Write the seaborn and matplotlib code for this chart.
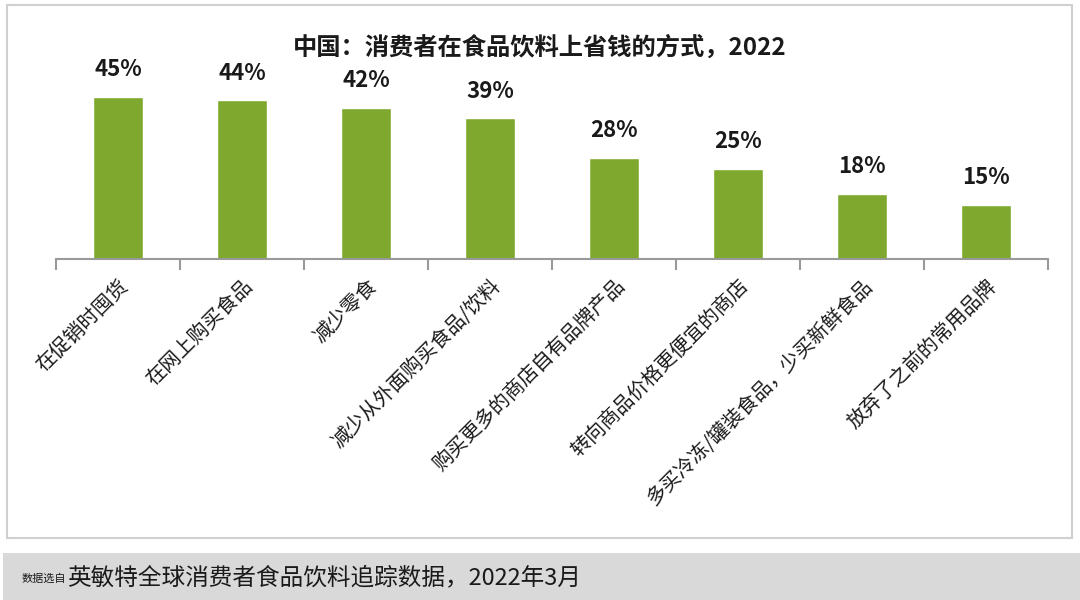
import matplotlib
matplotlib.use("Agg")
import matplotlib.pyplot as plt
import seaborn as sns
import pandas as pd
import numpy as np
from matplotlib.patches import Rectangle

# data
categories = ['在促销时囤货', '在网上购买食品', '减少零食', '减少从外面购买食品/饮料',
              '购买更多的商店自有品牌产品', '转向商品价格更便宜的商店',
              '多买冷冻/罐装食品，少买新鲜食品', '放弃了之前的常用品牌']
values = [45, 44, 42, 39, 28, 25, 18, 15]
title = '中国：消费者在食品饮料上省钱的方式，2022'
source_small = '数据选自'
source_text = '英敏特全球消费者食品饮料追踪数据，2022年3月'

sns.set_theme(style='white')
plt.rcParams['font.family'] = ['Noto Sans CJK SC', 'DejaVu Sans']

df = pd.DataFrame({'cat': categories, 'val': values})

fig = plt.figure(figsize=(10.8, 6), dpi=100)
ax = fig.add_axes([56 / 1080, 1 - 259 / 600, (1048 - 56) / 1080, 214 / 600])

sns.barplot(data=df, x='cat', y='val', color='#7fa82e', width=0.4,
            saturation=1, ax=ax)
ax.set_ylim(0, 59.4)
ax.set_xlim(-0.5, len(categories) - 0.5)

for i, v in enumerate(values):
    ax.text(i, v + 7.6, f'{v}%', ha='center', va='center', fontsize=16,
            fontweight='bold', color='#1a1a1a')

for s in ['top', 'right', 'left']:
    ax.spines[s].set_visible(False)
ax.spines['bottom'].set_color('#999999')
ax.spines['bottom'].set_linewidth(1.5)
ax.set_yticks([])
ax.set_xlabel('')
ax.set_ylabel('')

ax.set_xticks(np.arange(-0.5, len(categories)), minor=True)
ax.tick_params(axis='x', which='minor', length=8, width=1.5, color='#999999',
               direction='out', bottom=True)
ax.tick_params(axis='x', which='major', length=0, pad=12)
ax.set_xticks(range(len(categories)))
ax.set_xticklabels(categories, rotation=45, ha='right', rotation_mode='anchor',
                   fontsize=14.5, color='#1a1a1a')

fig.text(540 / 1080, 1 - 48 / 600, title, ha='center', va='center',
         fontsize=17.5, fontweight='bold', color='#1a1a1a')

# outer frame of the chart panel
fig.patches.append(Rectangle((7 / 1080, 1 - 538 / 600), (1072 - 7) / 1080,
                             (538 - 5) / 600, transform=fig.transFigure,
                             fill=False, edgecolor='#d0d0d0', linewidth=1.5))

# source band
fig.patches.append(Rectangle((3 / 1080, 0), 1077 / 1080, 47 / 600,
                             transform=fig.transFigure, facecolor='#d9d9d9',
                             edgecolor='none'))
fig.text(22 / 1080, 1 - 579 / 600, source_small, ha='left', va='center',
         fontsize=8, style='italic', color='#1a1a1a')
fig.text(67 / 1080, 1 - 578 / 600, source_text, ha='left', va='center',
         fontsize=17, style='italic', color='#1a1a1a')

fig.savefig('out.png', dpi=100)
